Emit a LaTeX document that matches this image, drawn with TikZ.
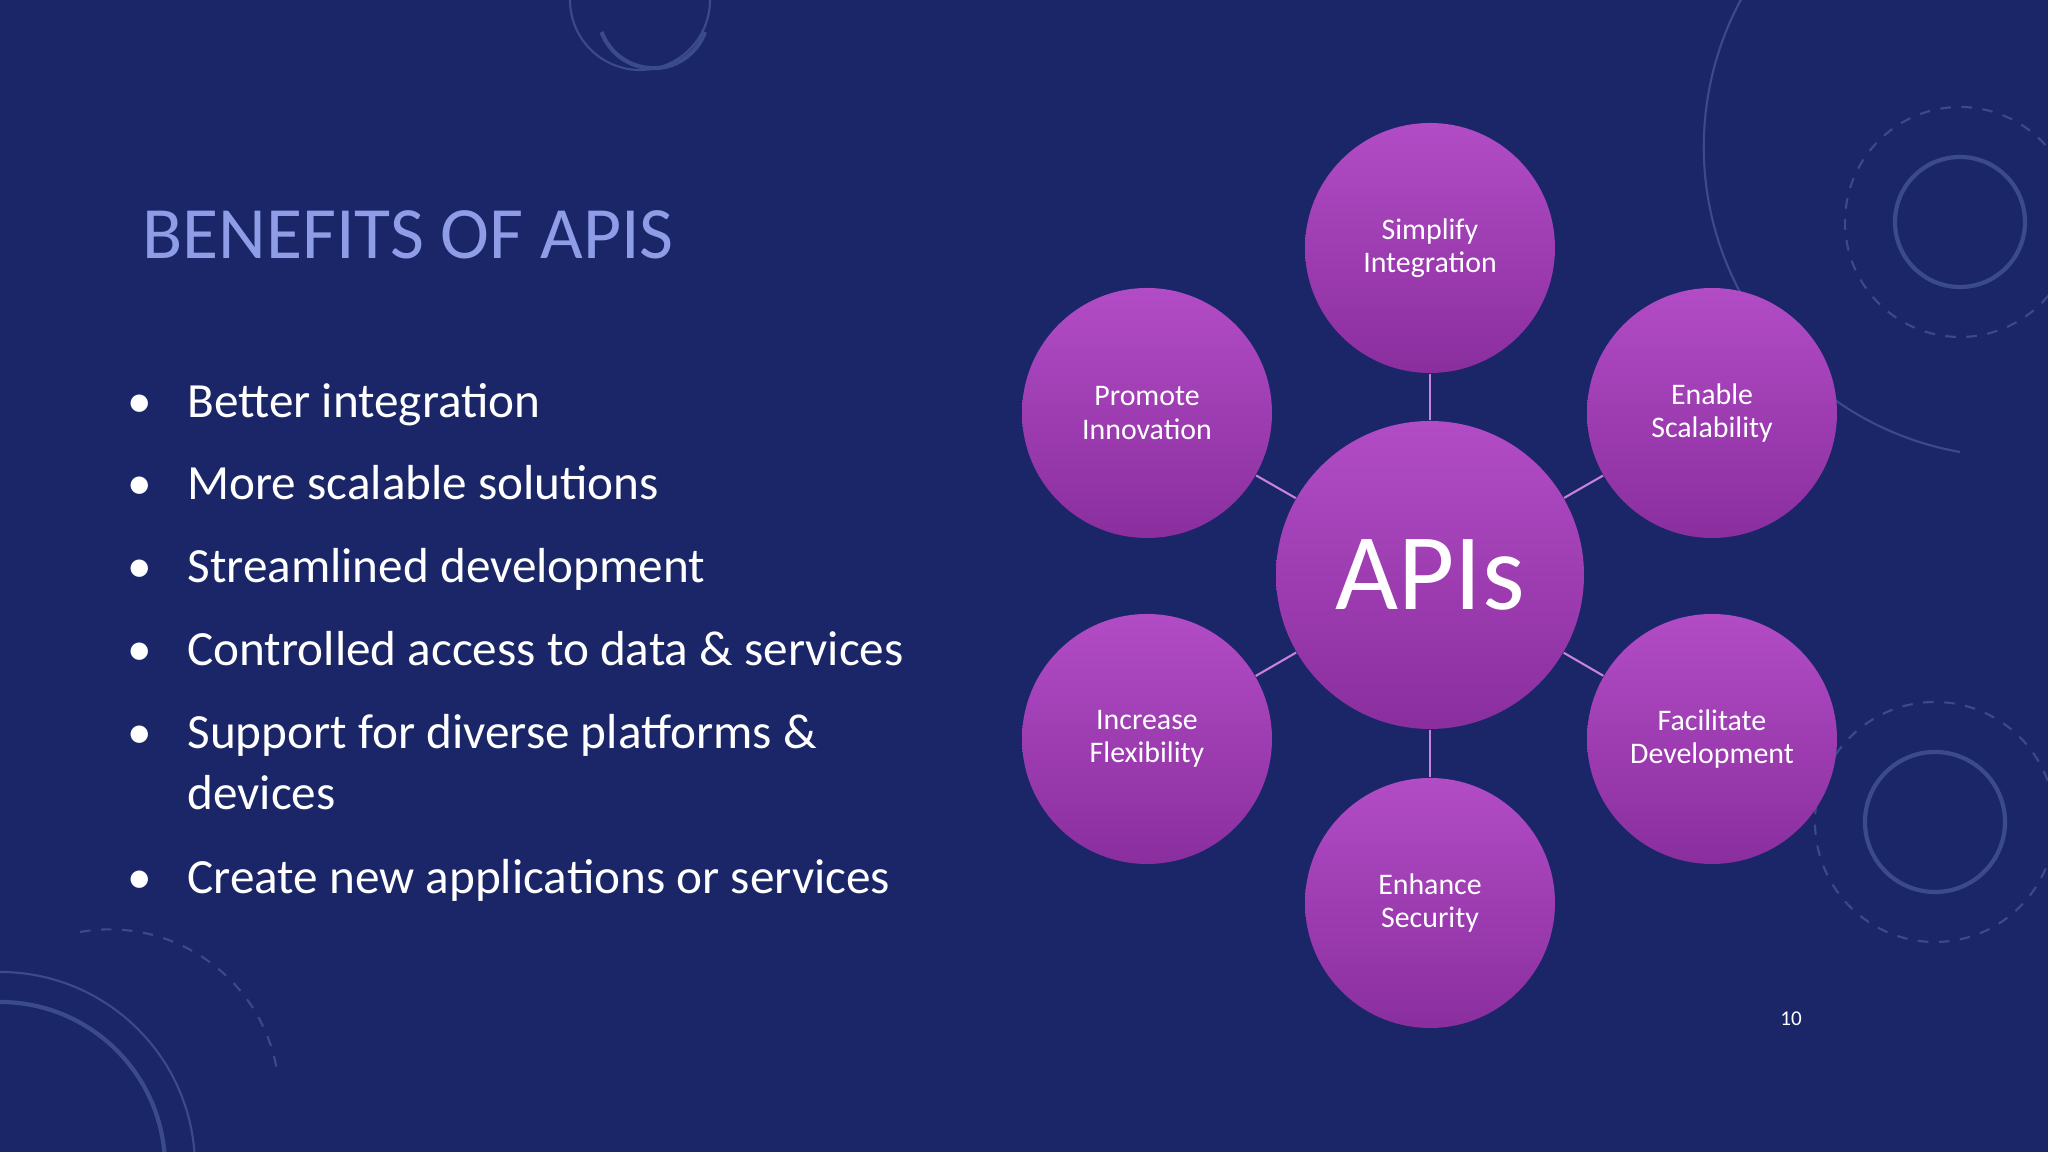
\documentclass[tikz,border=0pt]{standalone}
\usepackage{fontspec}
\setmainfont{Carlito}
\begin{document}
\begin{tikzpicture}
\definecolor{bg}{HTML}{1A2668}
\definecolor{ttl}{HTML}{8E9DE6}
\definecolor{ptop}{HTML}{B24CC6}
\definecolor{pbot}{HTML}{8A2E9E}
\definecolor{deco}{HTML}{3A4A8C}
\tikzset{
  sat/.style={circle,minimum size=2.5cm,inner sep=0pt,top color=ptop,bottom color=pbot,text=white,align=center,font=\fontsize{8.5}{9.5}\selectfont},
  hub/.style={circle,minimum size=3.08cm,inner sep=0pt,top color=ptop,bottom color=pbot,text=white,font=\fontsize{31}{31}\selectfont},
  link/.style={draw=ptop!70,line width=0.6pt},
  bul/.style={anchor=base west,text=white,font=\fontsize{14}{17}\selectfont,align=left},
  dec/.style={draw=deco,line width=1.2pt}
}
\fill[bg] (0,0) rectangle (20.48,11.52);
\useasboundingbox (0,0) rectangle (20.48,11.52);
% decoration
\draw[dec] (7.05,11.2) arc (-20:-160:0.55);
\draw[dec,line width=0.6pt] (7.1,11.52) arc (0:-190:0.7);
\draw[dec] (19.6,9.3) circle (0.65);
\draw[dec,line width=0.6pt,dashed] (19.6,9.3) circle (1.15);
\draw[dec,line width=0.6pt] (19.6,7.0) arc (-100:-250:3.1);
\draw[dec] (19.35,3.3) circle (0.7);
\draw[dec,line width=0.6pt,dashed] (19.35,3.3) circle (1.2);
\draw[dec] (0,1.5) arc (90:0:1.65);
\draw[dec,line width=0.6pt] (0,1.8) arc (90:0:1.95);
\draw[dec,line width=0.6pt,dashed] (0.8,2.2) arc (100:10:1.7);
% title
\node[anchor=base west,text=ttl,font=\fontsize{21}{21}\selectfont] (t) at (1.3,8.93) {BENEFITS OF APIS};
% bullets
\foreach \y/\txt [count=\i] in {7.34/Better integration,6.52/More scalable solutions,5.69/Streamlined development,4.86/Controlled access to data \& services,4.03/Support for diverse platforms \&,2.58/Create new applications or services}{
  \node[bul] (b\i) at (1.75,\y) {\txt};
  \node[anchor=base,text=white,font=\fontsize{14}{17}\selectfont] (d\i) at (1.4,\y) {•};
}
\node[bul] (b7) at (1.75,3.42) {devices};
% diagram
\node[sat] (s1) at (14.30,9.04) {Simplify\\Integration};
\node[sat] (s2) at (17.12,7.39) {Enable\\Scalability};
\node[sat] (s3) at (17.12,4.13) {Facilitate\\Development};
\node[sat] (s4) at (14.30,2.49) {Enhance\\Security};
\node[sat] (s5) at (11.47,4.13) {Increase\\Flexibility};
\node[sat] (s6) at (11.47,7.39) {Promote\\Innovation};
\node[hub] (c) at (14.30,5.77) {APIs};
\foreach \s in {s1,s2,s3,s4,s5,s6} \draw[link] (c) -- (\s);
\node[text=white,font=\fontsize{6}{6}\selectfont] (pg) at (17.91,1.33) {10};
\end{tikzpicture}
\end{document}
